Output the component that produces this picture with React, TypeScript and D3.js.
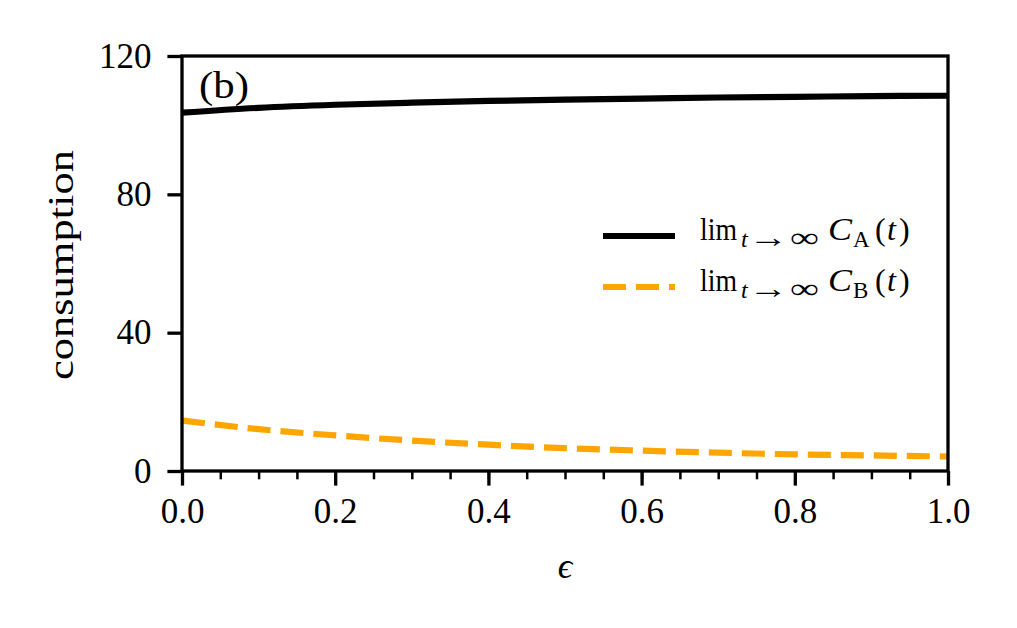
import * as d3 from "d3";
import { useEffect, useRef } from "react";

// epsilon samples and the two limit curves
const epsilon = [0, 0.1, 0.2, 0.3, 0.4, 0.5, 0.6, 0.7, 0.8, 0.9, 1.0];
const consumptionA = [103.6, 105.0, 105.9, 106.5, 107.0, 107.4, 107.7, 108.0, 108.2, 108.4, 108.5];
const consumptionB = [14.6, 12.1, 10.3, 8.8, 7.6, 6.6, 5.9, 5.3, 4.8, 4.5, 4.2];
const yTicks = [0, 40, 80, 120];
const xTicks = [0, 0.2, 0.4, 0.6, 0.8, 1.0];
const xMinorTicks = d3.range(0, 1.0001, 0.05);

const W = 1017;
const H = 628;
const margin = { left: 182, right: 69, top: 56, bottom: 157 };
const FONT = "'Liberation Serif', 'DejaVu Serif', serif";
const ORANGE = "#ffa500";

export default function App() {
  const gRef = useRef<SVGGElement>(null);

  useEffect(() => {
    if (!gRef.current) return;
    const svg = d3.select(gRef.current);
    svg.selectAll("*").remove();

    const x = d3.scaleLinear().domain([0, 1]).range([margin.left, W - margin.right]);
    const y = d3.scaleLinear().domain([0, 120]).range([H - margin.bottom, margin.top]);

    const line = (vals: number[]) =>
      d3
        .line<number>()
        .x((_, i) => x(epsilon[i]))
        .y((d) => y(d))
        .curve(d3.curveMonotoneX)(vals) ?? "";

    // curves
    svg
      .append("path")
      .attr("d", line(consumptionB))
      .attr("fill", "none")
      .attr("stroke", ORANGE)
      .attr("stroke-width", 6.2)
      .attr("stroke-dasharray", "23 10");
    svg
      .append("path")
      .attr("d", line(consumptionA))
      .attr("fill", "none")
      .attr("stroke", "#000")
      .attr("stroke-width", 6.2);

    // minor x ticks
    const minor = svg
      .append("g")
      .attr("transform", `translate(0,${y(0)})`)
      .call(d3.axisBottom(x).tickValues(xMinorTicks).tickSize(8.3).tickFormat(() => ""));
    minor.select(".domain").remove();
    minor.selectAll("line").attr("stroke-width", 2.5);

    // major axes
    const xAxis = svg
      .append("g")
      .attr("transform", `translate(0,${y(0)})`)
      .call(
        d3
          .axisBottom(x)
          .tickValues(xTicks)
          .tickSize(14.6)
          .tickSizeOuter(0)
          .tickPadding(13)
          .tickFormat(d3.format(".1f")),
      );
    const yAxis = svg
      .append("g")
      .attr("transform", `translate(${x(0)},0)`)
      .call(
        d3
          .axisLeft(y)
          .tickValues(yTicks)
          .tickSize(14.6)
          .tickSizeOuter(0)
          .tickPadding(16)
          .tickFormat(d3.format("d")),
      );
    [xAxis, yAxis].forEach((g) => {
      g.select(".domain").remove();
      g.selectAll("line").attr("stroke-width", 3.3);
      g.selectAll("text")
        .attr("font-family", FONT)
        .attr("font-size", 35)
        .attr("fill", "#000");
    });

    // frame
    svg
      .append("rect")
      .attr("x", x(0))
      .attr("y", y(120))
      .attr("width", x(1) - x(0))
      .attr("height", y(0) - y(120))
      .attr("fill", "none")
      .attr("stroke", "#000")
      .attr("stroke-width", 3.3);
  }, []);

  const legendItems = [
    { sub: "A", color: "#000", dash: undefined as string | undefined, y: 236 },
    { sub: "B", color: ORANGE, dash: "23 10", y: 287 },
  ];

  return (
    <svg
      width={W}
      height={H}
      style={{ position: "absolute", left: 0, top: 0, background: "#fff" }}
      fontFamily={FONT}
    >
      <g ref={gRef} />
      <text x={199} y={98} fontSize={37} textLength={50} lengthAdjust="spacingAndGlyphs">
        (b)
      </text>
      <text x={565} y={578} fontSize={36} fontStyle="italic" textAnchor="middle">
        ϵ
      </text>
      <text
        transform="translate(73,265) rotate(-90)"
        fontSize={35}
        textAnchor="middle"
        textLength={230}
        lengthAdjust="spacingAndGlyphs"
      >
        consumption
      </text>
      {legendItems.map((it) => {
        const b = it.y + 4;
        const s = b + 7;
        return (
          <g key={it.sub}>
            <line
              x1={603}
              x2={675}
              y1={it.y}
              y2={it.y}
              stroke={it.color}
              strokeWidth={6.2}
              strokeDasharray={it.dash}
            />
            <text x={700} y={b} fontSize={31} textLength={37} lengthAdjust="spacingAndGlyphs">
              lim
            </text>
            <text x={741} y={s} fontSize={24} fontStyle="italic">
              t
            </text>
            <text x={748} y={s} fontSize={28} textLength={40} lengthAdjust="spacingAndGlyphs">
              →
            </text>
            <text x={790} y={s} fontSize={28} textLength={29} lengthAdjust="spacingAndGlyphs">
              ∞
            </text>
            <text x={828} y={b} fontSize={32} fontStyle="italic" textLength={24} lengthAdjust="spacingAndGlyphs">
              C
            </text>
            <text x={853} y={s} fontSize={23}>
              {it.sub}
            </text>
            <text x={875} y={b} fontSize={32}>
              (
            </text>
            <text x={887} y={b} fontSize={32} fontStyle="italic">
              t
            </text>
            <text x={899} y={b} fontSize={32}>
              )
            </text>
          </g>
        );
      })}
    </svg>
  );
}
